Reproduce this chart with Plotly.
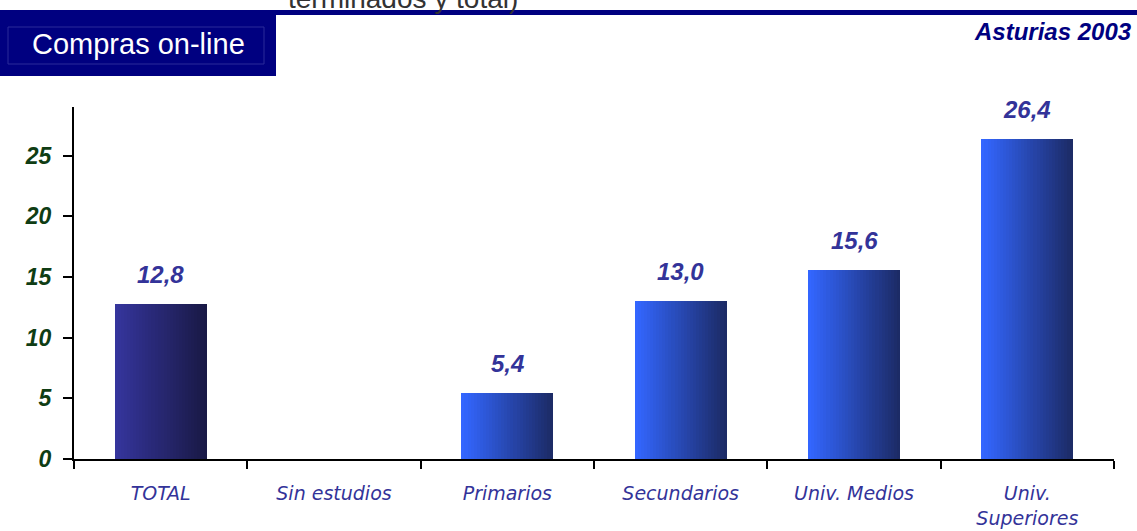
import plotly.graph_objects as go

categories = ["TOTAL", "Sin estudios", "Primarios", "Secundarios", "Univ. Medios", "Univ.<br>Superiores"]
values = [12.8, None, 5.4, 13.0, 15.6, 26.4]
y_ticks = [0, 5, 10, 15, 20, 25]

W, H = 1137, 531
L, R, T, B = 74, 23, 107, 72
PW, PH = W - L - R, H - T - B


def px_x(px):
    return (px - L) / PW


def px_y(py):
    return (H - B - py) / PH


def hex2rgb(h):
    h = h.lstrip("#")
    return tuple(int(h[i:i + 2], 16) for i in (0, 2, 4))


def lerp(c1, c2, t):
    a, b = hex2rgb(c1), hex2rgb(c2)
    return "rgb(%d,%d,%d)" % tuple(round(a[k] + (b[k] - a[k]) * t) for k in range(3))


total_grad = ("#35359c", "#191946")
other_grad = ("#3366ff", "#1c2b66")

fig = go.Figure()
N = 30
bw = 0.53
for i in range(N):
    t = i / (N - 1)
    cols = [lerp(*total_grad, t) if c == "TOTAL" else lerp(*other_grad, t) for c in categories]
    fig.add_trace(go.Bar(
        x=categories, y=values, width=bw / N * 1.05, offset=-bw / 2 + i * bw / N,
        marker=dict(color=cols, line=dict(width=0)), hoverinfo="skip", showlegend=False,
    ))

for c, v in zip(categories, values):
    if v is None:
        continue
    fig.add_annotation(
        x=c, y=v, text=f"{v:.1f}".replace(".", ","), showarrow=False,
        yanchor="bottom", yshift=14,
        font=dict(family="Liberation Sans", size=24, color="#333399",
                  style="italic", weight="bold"),
    )

# header decorations
fig.add_annotation(xref="paper", yref="paper", x=px_x(286), y=px_y(-1.5),
                   xanchor="left", yanchor="middle", showarrow=False,
                   text="terminados y total)",
                   font=dict(family="Liberation Sans", size=28, color="#333333"))
fig.add_shape(type="rect", xref="paper", yref="paper",
              x0=px_x(0), x1=px_x(W), y0=px_y(15), y1=px_y(10),
              fillcolor="#000080", line=dict(width=0), layer="above")
fig.add_shape(type="rect", xref="paper", yref="paper",
              x0=px_x(0), x1=px_x(276), y0=px_y(76), y1=px_y(10),
              fillcolor="#000080", line=dict(width=0), layer="above")
fig.add_shape(type="rect", xref="paper", yref="paper",
              x0=px_x(8), x1=px_x(264), y0=px_y(64), y1=px_y(27),
              fillcolor="rgba(0,0,0,0)", line=dict(width=1, color="#2b2b99"), layer="above")
fig.add_annotation(xref="paper", yref="paper", x=px_x(30), y=px_y(44),
                   xanchor="left", yanchor="middle", showarrow=False,
                   text="Compras on-line",
                   font=dict(family="Liberation Sans", size=29, color="white"))
fig.add_annotation(xref="paper", yref="paper", x=px_x(1134), y=px_y(31),
                   xanchor="right", yanchor="middle", showarrow=False,
                   text="Asturias 2003",
                   font=dict(family="Liberation Sans", size=24, color="#000080",
                             style="italic", weight="bold"))

fig.update_layout(
    width=W, height=H, barmode="overlay", bargap=0,
    margin=dict(l=L, r=R, t=T, b=B, autoexpand=False),
    paper_bgcolor="white", plot_bgcolor="white",
    xaxis=dict(
        type="category", tickson="boundaries", ticks="outside", ticklen=8,
        tickwidth=2, tickcolor="black", showline=True, linecolor="black", linewidth=2,
        showgrid=False, range=[-0.5, 5.5], ticklabelstandoff=16,
        tickfont=dict(family="DejaVu Sans", size=19, color="#333399", style="italic"),
    ),
    yaxis=dict(
        range=[0, 29], tickvals=y_ticks, ticks="outside", ticklen=9, tickwidth=2,
        tickcolor="black", showline=True, linecolor="black", linewidth=2,
        showgrid=False, zeroline=False, ticklabelstandoff=7,
        tickfont=dict(family="Liberation Sans", size=23, color="#0f3d14",
                      style="italic", weight="bold"),
    ),
)

fig.write_html("out.html", config={"displayModeBar": False},
               post_script="document.body.style.margin='0';")
